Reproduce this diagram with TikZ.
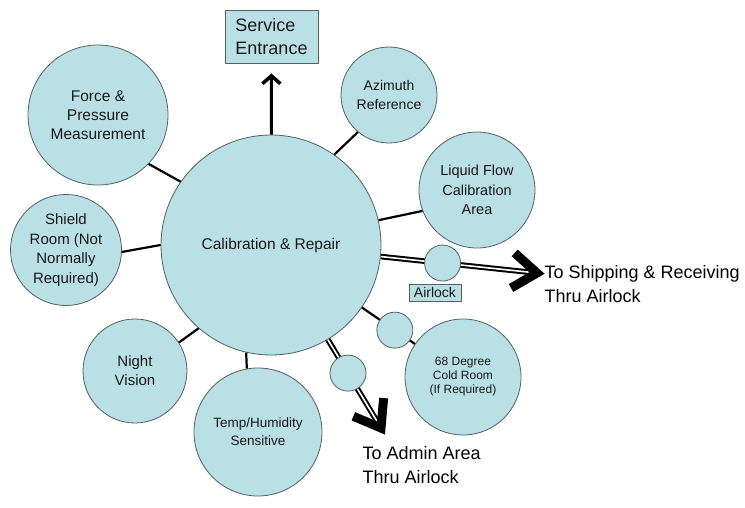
\documentclass[tikz,border=0pt]{standalone}
\usepackage{fontspec}
\setmainfont{Liberation Sans}
\usetikzlibrary{calc,arrows.meta}
\definecolor{bfill}{RGB}{185,224,229}
\definecolor{bord}{RGB}{85,95,97}
\definecolor{txt}{RGB}{25,25,25}
\newcommand\fsz[2]{\fontsize{#1}{#2}\selectfont}
\begin{document}
\begin{tikzpicture}[x=1pt,y=-1pt,
  bub/.style={circle, draw=bord, fill=bfill, line width=0.8pt, align=center, inner sep=0pt, text=txt},
  boxn/.style={rectangle, draw=bord, fill=bfill, line width=0.8pt, inner sep=2pt, text=txt},
  conn/.style={line width=2.2pt, black},
  dbl/.style={line width=2pt, black, double=white, double distance=1.6pt},
  chev/.style={line width=9pt, black, line join=miter, miter limit=10},
  lbl/.style={anchor=west, align=left, text=black, font=\fsz{18}{23.5}}]
\useasboundingbox (0,0) rectangle (745,508);

\node[bub, minimum size=220pt, font=\fsz{15.5}{19}] (main) at (271,245) {Calibration \& Repair};
\node[bub, minimum size=140pt, font=\fsz{15.5}{19}] (force) at (98,115) {Force \&\\Pressure\\Measurement};
\node[bub, minimum size=96pt, font=\fsz{14}{19}] (azim) at (389,95) {Azimuth\\Reference};
\node[bub, minimum size=116pt, font=\fsz{14.5}{19.5}] (liquid) at (477,190) {Liquid Flow\\Calibration\\Area};
\node[bub, minimum size=111pt, font=\fsz{15}{19.5}] (shield) at (66,250) {Shield\\Room (Not\\Normally\\Required)};
\node[bub, minimum size=104pt, font=\fsz{15}{19}] (night) at (135,371) {Night\\Vision};
\node[bub, minimum size=128pt, font=\fsz{13.5}{18}] (temp) at (258,432) {Temp/Humidity\\Sensitive};
\node[bub, minimum size=116pt, font=\fsz{12}{14}] (cold) at (463,377) {68 Degree\\Cold Room\\(If Required)};

\node[boxn, minimum width=93pt, minimum height=53pt, align=left, font=\fsz{18}{23}] (serv) at (271.5,36.5) {Service\\Entrance};
\node[boxn, minimum width=52pt, minimum height=17pt, inner sep=1pt, font=\fsz{14}{16}] (air) at (435,292.5) {Airlock};

% simple connectors
\draw[conn] (force.-44) -- (main.145);
\draw[conn] (azim.230) -- (main.55);
\draw[conn] (liquid.201) -- (main.13);
\draw[conn] (shield.-2) -- (main.180);
\draw[conn] (night.33) -- (main.229);
\draw[conn] (temp.100) -- (main.257);
\draw[conn] (main) -- (cold);

% service entrance arrow
\draw[line width=3pt, black, -{Straight Barb[length=8pt,width=18pt,line width=3.5pt]}, shorten >=10pt] (main) -- (serv);

% shipping arrow
\coordinate (shipT) at (537,273);
\draw[dbl, shorten >=6pt] (main) -- (shipT);
\draw[chev] ($(shipT)!30pt!36:(main.center)$) -- (shipT) -- ($(shipT)!30pt!-36:(main.center)$);

% admin arrow
\coordinate (admT) at (381,428);
\draw[dbl, shorten >=6pt] (main) -- (admT);
\draw[chev] ($(admT)!30pt!36:(main.center)$) -- (admT) -- ($(admT)!30pt!-36:(main.center)$);

% airlock circles
\node[bub, minimum size=36pt] (a1) at ($(main.center)!0.645!(shipT)$) {};
\node[bub, minimum size=36pt] (a2) at ($(main.center)!0.70!(admT)$) {};
\node[bub, minimum size=36pt] (a3) at ($(main.center)!0.645!(cold.center)$) {};

\node[lbl] (ship) at (541,284) {To Shipping \& Receiving\\Thru Airlock};
\node[lbl] (adm) at (359,465) {To Admin Area\\Thru Airlock};
\end{tikzpicture}
\end{document}
